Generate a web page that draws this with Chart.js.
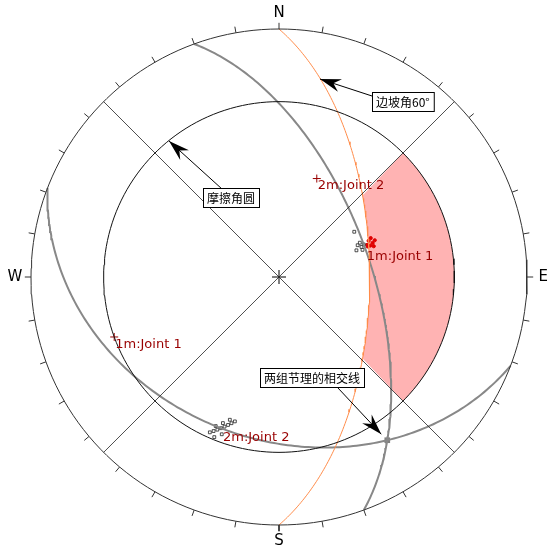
<!DOCTYPE html>
<html>
<head>
<meta charset="utf-8">
<script src="https://cdn.jsdelivr.net/npm/chart.js@4.4.0/dist/chart.umd.min.js"></script>
<style>
  body { margin: 0; background: #fff; }
  #wrap { width: 556px; height: 555px; }
</style>
</head>
<body>
<div id="wrap"><canvas id="net"></canvas></div>
<script>
// --- data (equal-area, lower hemisphere) ---
const slopePlane = [90, 60];          // dip direction, dip
const frictionAngle = 30;
const jointPoles = [[21, 55], [250, 30]];   // mean poles: 2m:Joint 2, 1m:Joint 1 (trend, plunge)
const poleLabels = ['2m:Joint 2', '1m:Joint 1'];
const set1Red = [[68, 58], [70, 57], [71, 59], [69, 56], [72, 57], [70, 59], [67, 57], [71, 58]];
const set1Open = [[68, 62], [70, 61], [72, 61], [71, 63], [69, 60], [67, 61], [59, 61]];
const set2Open = [[204, 32], [203, 33], [202, 34], [201, 35], [200, 36], [199, 37], [198, 38],
                  [197, 39], [203, 35], [201, 37], [199, 39], [202, 31], [200, 33]];
const compass = ['N', 'E', 'S', 'W'];

const D = Math.PI / 180;
const R_PX = 248, CX = 279, CY = 277;

function proj(trend, plunge) {
      const r = Math.SQRT2 * Math.sin((90 - plunge) / 2 * D);
      return { x: r * Math.sin(trend * D), y: r * Math.cos(trend * D) };
}
function vecToTP(v) {
      if (v[2] < 0) v = v.map(c => -c);
      const pl = Math.asin(Math.min(1, v[2])) / D;
      const tr = Math.atan2(v[0], v[1]) / D;
      return [tr, pl];
}
function greatCircle(dd, dip) {
      const s = (dd - 90) * D;
      const sv = [Math.sin(s), Math.cos(s), 0];
      const dv = [Math.sin(dd * D) * Math.cos(dip * D), Math.cos(dd * D) * Math.cos(dip * D), Math.sin(dip * D)];
      const pts = [];
      for (let a = 0; a <= 180; a += 1) {
            const c = Math.cos(a * D), n = Math.sin(a * D);
            const v = [c * sv[0] + n * dv[0], c * sv[1] + n * dv[1], c * sv[2] + n * dv[2]];
            const tp = vecToTP(v);
            pts.push(proj(tp[0], tp[1]));
      }
      return pts;
}
function poleVec(tr, pl) {
      return [Math.cos(pl * D) * Math.sin(tr * D), Math.cos(pl * D) * Math.cos(tr * D), Math.sin(pl * D)];
}
function circle(r) {
      const pts = [];
      for (let a = 0; a <= 360; a += 2) pts.push({ x: r * Math.sin(a * D), y: r * Math.cos(a * D) });
      return pts;
}

const planes = jointPoles.map(p => [(p[0] + 180) % 360, 90 - p[1]]);
const rFric = Math.SQRT2 * Math.sin(frictionAngle * D);
const slopeCurve = greatCircle(slopePlane[0], slopePlane[1]);

// intersection of the two joint planes
const n1 = poleVec(...jointPoles[0]), n2 = poleVec(...jointPoles[1]);
const cr = [n1[1] * n2[2] - n1[2] * n2[1], n1[2] * n2[0] - n1[0] * n2[2], n1[0] * n2[1] - n1[1] * n2[0]];
const len = Math.hypot(...cr);
const inter = proj(...vecToTP(cr.map(c => c / len)));

const line = (data, color, width) => ({ data, borderColor: color, borderWidth: width, showLine: true,
      pointRadius: 0, fill: false, tension: 0 });

// ticks every 10 degrees
const tickSets = [];
for (let a = 0; a < 360; a += 10) {
      tickSets.push(line([{ x: Math.sin(a * D), y: Math.cos(a * D) },
                          { x: 1.025 * Math.sin(a * D), y: 1.025 * Math.cos(a * D) }], '#333', 1));
}

// daylight zone polygon: slope circle between azimuth 45-135, closed by the friction circle
const zone = slopeCurve.filter(p => {
      const az = Math.atan2(p.x, p.y) / D;
      return az >= 45 && az <= 135;
});
for (let a = 135; a >= 45; a -= 1) zone.push({ x: rFric * Math.sin(a * D), y: rFric * Math.cos(a * D) });

const overlay = {
      id: 'overlay',
      beforeDatasetsDraw(chart) {
            const { ctx, scales: { x, y } } = chart;
            ctx.save();
            ctx.beginPath();
            zone.forEach((p, i) => {
                  const px = x.getPixelForValue(p.x), py = y.getPixelForValue(p.y);
                  i ? ctx.lineTo(px, py) : ctx.moveTo(px, py);
            });
            ctx.closePath();
            ctx.fillStyle = '#ffb3b3';
            ctx.fill();
            ctx.restore();
      },
      afterDatasetsDraw(chart) {
            const { ctx, scales: { x, y } } = chart;
            const P = (ux, uy) => [x.getPixelForValue(ux), y.getPixelForValue(uy)];
            ctx.save();
            ctx.font = '15px "DejaVu Sans", Verdana, sans-serif';
            ctx.fillStyle = '#000';
            ctx.textAlign = 'center';
            ctx.textBaseline = 'middle';
            compass.forEach((c, i) => {
                  const [px, py] = P(1.065 * Math.sin(i * 90 * D), 1.065 * Math.cos(i * 90 * D));
                  ctx.fillText(c, px, py);
            });
            ctx.font = '13px "DejaVu Sans", Verdana, sans-serif';
            ctx.fillStyle = '#990000';
            ctx.textAlign = 'left';
            ctx.textBaseline = 'top';
            jointPoles.forEach((p, i) => {
                  const q = proj(...p);
                  const [px, py] = P(q.x, q.y);
                  ctx.fillText(poleLabels[i], px + 1, py + 1);
            });
            {
                  const q = proj(70, 58);
                  const [px, py] = P(q.x, q.y);
                  ctx.fillText('1m:Joint 1', px - 3, py + 6);
            }
            {
                  const q = proj(201, 35);
                  const [px, py] = P(q.x, q.y);
                  ctx.fillText('2m:Joint 2', px + 2, py + 3);
            }
            const callout = (text, bx, by, fromX, fromY, toX, toY) => {
                  ctx.font = '12px "Noto Sans CJK SC", sans-serif';
                  const w = ctx.measureText(text).width + 8, h = 19;
                  ctx.strokeStyle = '#000';
                  ctx.lineWidth = 1;
                  ctx.beginPath();
                  ctx.moveTo(fromX, fromY);
                  ctx.lineTo(toX, toY);
                  ctx.stroke();
                  const ang = Math.atan2(toY - fromY, toX - fromX);
                  ctx.fillStyle = '#000';
                  ctx.beginPath();
                  ctx.moveTo(toX, toY);
                  ctx.lineTo(toX - 22 * Math.cos(ang - 0.3), toY - 22 * Math.sin(ang - 0.3));
                  ctx.lineTo(toX - 14 * Math.cos(ang), toY - 14 * Math.sin(ang));
                  ctx.lineTo(toX - 22 * Math.cos(ang + 0.3), toY - 22 * Math.sin(ang + 0.3));
                  ctx.closePath();
                  ctx.fill();
                  ctx.fillStyle = '#fff';
                  ctx.fillRect(bx, by, w, h);
                  ctx.strokeRect(bx + 0.5, by + 0.5, w, h);
                  ctx.fillStyle = '#000';
                  ctx.textAlign = 'left';
                  ctx.textBaseline = 'middle';
                  ctx.fillText(text, bx + 4, by + h / 2 + 1);
            };
            callout('边坡角60°', 372, 92, 372, 96, 320, 79);
            callout('摩擦角圆', 203, 188, 222, 189, 169, 141);
            const ip = P(inter.x, inter.y);
            callout('两组节理的相交线', 260, 368, 338, 388, ip[0] - 6, ip[1] - 6);
            ctx.restore();
      }
};

new Chart(document.getElementById('net'), {
      type: 'scatter',
      data: {
            datasets: [
                  line(circle(1), '#333', 1),
                  ...tickSets,
                  line(circle(rFric), '#111', 1),
                  line([proj(45, 0), proj(225, 0)], '#222', 0.8),
                  line([proj(135, 0), proj(315, 0)], '#222', 0.8),
                  line(slopeCurve, '#ff8c4a', 1),
                  line(greatCircle(...planes[0]), '#888', 2),
                  line(greatCircle(...planes[1]), '#888', 2),
                  { data: set1Open.map(p => proj(...p)), pointStyle: 'rect', pointRadius: 2, borderColor: '#222',
                    backgroundColor: '#fff', borderWidth: 0.8 },
                  { data: set2Open.map(p => proj(...p)), pointStyle: 'rect', pointRadius: 2, borderColor: '#222',
                    backgroundColor: '#fff', borderWidth: 0.8 },
                  { data: set1Red.map(p => proj(...p)), pointStyle: 'circle', pointRadius: 1.6, borderColor: '#e00000',
                    backgroundColor: '#e00000', borderWidth: 1 },
                  { data: jointPoles.map(p => proj(...p)), pointStyle: 'cross', pointRadius: 4, borderColor: '#990000',
                    borderWidth: 1 },
                  { data: [{ x: 0, y: 0 }], pointStyle: 'cross', pointRadius: 7, borderColor: '#000', borderWidth: 1 },
                  { data: [inter], pointStyle: 'rect', pointRadius: 4, borderColor: '#808080',
                    backgroundColor: '#808080', borderWidth: 0 }
            ]
      },
      options: {
            responsive: true,
            maintainAspectRatio: false,
            animation: false,
            layout: { padding: 0, autoPadding: false },
            scales: {
                  x: { display: false, min: -CX / R_PX, max: (556 - CX) / R_PX },
                  y: { display: false, min: -(555 - CY) / R_PX, max: CY / R_PX }
            },
            plugins: { legend: { display: false }, tooltip: { enabled: false } }
      },
      plugins: [overlay]
});
</script>
</body>
</html>
